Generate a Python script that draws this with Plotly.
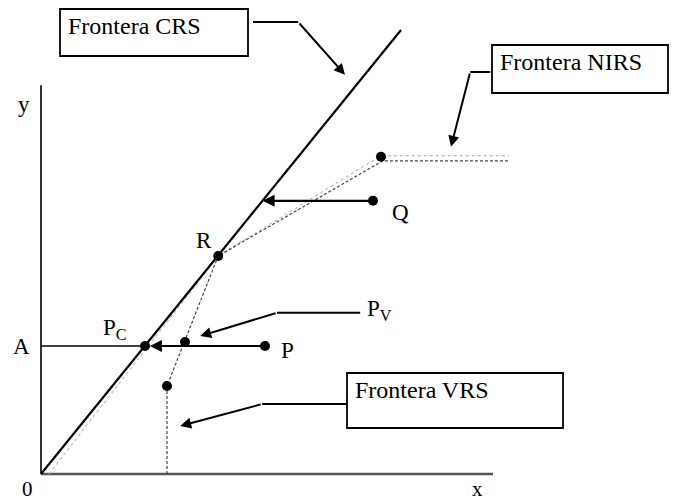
import plotly.graph_objects as go

# ---------------- data (diagram units) ----------------
crs_x = [0.0, 9.0]
crs_y = [0.0, 11.1]

vrs_x = [3.15, 3.15, 4.43, 8.55, 11.7]
vrs_y = [0.0, 2.2, 5.45, 7.83, 7.83]

nirs_x = [0.2, 4.43, 8.5, 11.7]
nirs_y = [0.0, 5.45, 7.96, 7.96]

point_names = ["R", "P", "Q", "Pc", "Pv", "V1", "N1"]
point_x = [4.43, 5.6, 8.3, 2.6, 3.6, 3.15, 8.5]
point_y = [5.45, 3.2, 6.83, 3.2, 3.3, 2.2, 7.93]

axis_x_max = 11.3
axis_y_max = 9.72
level_A = 3.2

FONT = "Liberation Serif"

pts = dict(zip(point_names, zip(point_x, point_y)))

fig = go.Figure()

# axes
fig.add_trace(go.Scatter(x=[0, 0], y=[axis_y_max, 0], mode="lines",
                         line=dict(color="#333333", width=2), hoverinfo="skip"))
fig.add_trace(go.Scatter(x=[0, axis_x_max], y=[0, 0], mode="lines",
                         line=dict(color="#555555", width=2.5), hoverinfo="skip"))

# NIRS frontier (light dotted)
fig.add_trace(go.Scatter(x=nirs_x, y=nirs_y, mode="lines",
                         line=dict(color="#bdbdbd", width=1.2, dash="dot"), hoverinfo="skip"))
# VRS frontier (dashed)
fig.add_trace(go.Scatter(x=vrs_x, y=vrs_y, mode="lines",
                         line=dict(color="#444444", width=1.2, dash="3px,2px"), hoverinfo="skip"))
# CRS frontier
fig.add_trace(go.Scatter(x=crs_x, y=crs_y, mode="lines",
                         line=dict(color="black", width=2.2), hoverinfo="skip"))

# line from A to Pc
fig.add_trace(go.Scatter(x=[0, pts["Pc"][0]], y=[level_A, level_A], mode="lines",
                         line=dict(color="black", width=1.3), hoverinfo="skip"))

# leader horizontal segments
leaders = [
    ((5.3, 11.3), (6.43, 11.3), (7.6, 9.98)),    # CRS
    ((11.23, 10.05), (10.73, 10.05), (10.25, 8.18)),  # NIRS
    ((7.65, 1.75), (5.53, 1.75), (3.48, 1.2)),   # VRS
    ((7.98, 4.03), (5.9, 4.03), (3.98, 3.45)),   # Pv
]
for a, b, tip in leaders:
    fig.add_trace(go.Scatter(x=[a[0], b[0]], y=[a[1], b[1]], mode="lines",
                             line=dict(color="black", width=2), hoverinfo="skip"))
    fig.add_annotation(x=tip[0], y=tip[1], ax=b[0], ay=b[1], axref="x", ayref="y",
                       xref="x", yref="y", text="", showarrow=True,
                       arrowhead=2, arrowsize=1.1, arrowwidth=2, arrowcolor="black",
                       standoff=0, startstandoff=0)

# arrow P -> Pc
fig.add_annotation(x=pts["Pc"][0] + 0.12, y=level_A, ax=pts["P"][0], ay=level_A,
                   axref="x", ayref="y", xref="x", yref="y", text="", showarrow=True,
                   arrowhead=2, arrowsize=1.1, arrowwidth=2.2, arrowcolor="black",
                   standoff=0)
# arrow Q -> CRS
q_tip_x = pts["Q"][1] * crs_x[1] / crs_y[1]
fig.add_annotation(x=q_tip_x, y=pts["Q"][1], ax=pts["Q"][0], ay=pts["Q"][1],
                   axref="x", ayref="y", xref="x", yref="y", text="", showarrow=True,
                   arrowhead=2, arrowsize=1.1, arrowwidth=2.2, arrowcolor="black",
                   standoff=0)

# points
fig.add_trace(go.Scatter(x=point_x, y=point_y, mode="markers",
                         marker=dict(color="black", size=10), hoverinfo="skip"))

# boxes
boxes = [
    ("Frontera CRS", 0.475, 5.175, 10.45, 11.625),
    ("Frontera NIRS", 11.275, 15.675, 9.525, 10.725),
    ("Frontera VRS", 7.65, 13.05, 1.15, 2.525),
]
for text, x0, x1, y0, y1 in boxes:
    fig.add_shape(type="rect", x0=x0, x1=x1, y0=y0, y1=y1, xref="x", yref="y",
                  line=dict(color="black", width=1.8), fillcolor="white")
    fig.add_annotation(x=x0 + 0.16, y=y1 - 0.42, xref="x", yref="y", text=text,
                       showarrow=False, xanchor="left", yanchor="middle",
                       font=dict(family=FONT, size=24, color="black"))

# labels
labels = [
    ("y", -0.42, 9.23, 23),
    ("x", 10.9, -0.37, 21),
    ("0", -0.35, -0.37, 21),
    ("A", -0.5, level_A - 0.02, 23),
    ("P", pts["P"][0] + 0.55, pts["P"][1] - 0.1, 23),
    ("Q", pts["Q"][0] + 0.68, pts["Q"][1] - 0.28, 23),
    ("R", pts["R"][0] - 0.35, pts["R"][1] + 0.4, 23),
    ("P<sub>C</sub>", 1.85, 3.62, 23),
    ("P<sub>V</sub>", 8.45, 4.1, 23),
]
for t, x, y, s in labels:
    fig.add_annotation(x=x, y=y, xref="x", yref="y", text=t, showarrow=False,
                       font=dict(family=FONT, size=s, color="black"))

fig.update_layout(
    width=676, height=503,
    margin=dict(l=0, r=0, t=0, b=0),
    paper_bgcolor="white", plot_bgcolor="white",
    showlegend=False,
    xaxis=dict(range=[-1.025, 15.875], visible=False, fixedrange=True),
    yaxis=dict(range=[-0.725, 11.85], visible=False, fixedrange=True),
)

fig.write_html("out.html",
               config={"displayModeBar": False, "staticPlot": True},
               post_script="document.body.style.margin='0';document.body.style.overflow='hidden';")
